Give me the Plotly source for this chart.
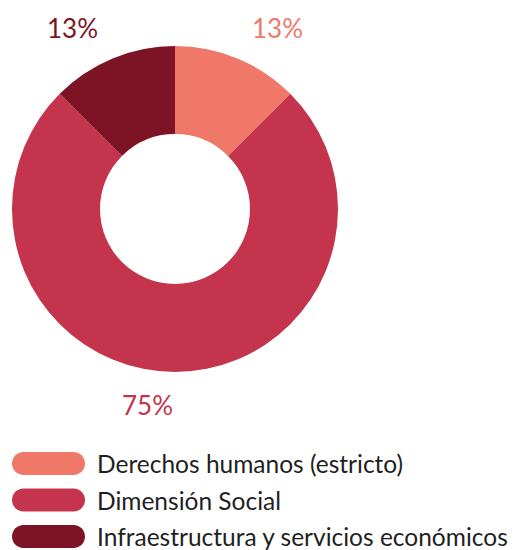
import math
import plotly.graph_objects as go

# slice data (1, 6, 1 projects -> 12.5 / 75 / 12.5 %)
categories = ["Derechos humanos (estricto)", "Dimensión Social", "Infraestructura y servicios económicos"]
counts = [1, 6, 1]
colors = ["#F07868", "#C4344C", "#7D1425"]

# the page body adds an 8px margin, so the figure is a bit smaller than the window
OFF = 8
W, H = 526 - OFF, 550 - OFF
FONT = "Lato, 'Noto Sans', sans-serif"


def px(x):
    return (x - OFF) / W


def py(y):
    return 1 - (y - OFF) / H


# donut geometry in window pixels
cx, cy, r_out = 175, 209, 163
r_label = r_out + 33

fig = go.Figure()
fig.add_trace(go.Pie(
    labels=categories,
    values=counts,
    marker=dict(colors=colors, line=dict(width=0)),
    hole=0.46,
    sort=False,
    direction="clockwise",
    rotation=0,
    textinfo="none",
    showlegend=False,
    hoverinfo="label+percent",
    domain=dict(x=[px(cx - r_out), px(cx + r_out)], y=[py(cy + r_out), py(cy - r_out)]),
))

# percent labels outside the ring, placed at each slice's mid angle
total = sum(counts)
cum = 0
for v, col in zip(counts, colors):
    mid = (cum + v / 2) / total * 360
    cum += v
    a = math.radians(mid)
    fig.add_annotation(
        x=px(cx + r_label * math.sin(a)), y=py(cy - r_label * math.cos(a)),
        xref="paper", yref="paper", showarrow=False,
        text=f"{int(v / total * 100 + 0.5)}%",
        xanchor="left" if mid < 180 else "right", yanchor="middle",
        font=dict(size=26, color=col, family=FONT),
    )

# custom legend: rounded pills + labels
pw, ph = 73, 23
r = ph / 2
k = 0.5523 * r
pill = (f"M {r},{-r} L {pw - r},{-r} C {pw - r + k},{-r} {pw},{-k} {pw},0 "
        f"C {pw},{k} {pw - r + k},{r} {pw - r},{r} L {r},{r} "
        f"C {r - k},{r} 0,{k} 0,0 C 0,{-k} {r - k},{-r} {r},{-r} Z")
row_y = [463.5, 500, 536.5]
for name, col, yy in zip(categories, colors, row_y):
    fig.add_shape(
        type="path", path=pill,
        xref="paper", yref="paper",
        xsizemode="pixel", ysizemode="pixel",
        xanchor=px(12), yanchor=py(yy),
        fillcolor=col, line=dict(width=0),
    )
    fig.add_annotation(
        x=px(95), y=py(yy), xref="paper", yref="paper",
        text=name, showarrow=False, xanchor="left", yanchor="middle",
        font=dict(size=24.5, color="#1f1f1f", family=FONT),
    )

fig.update_layout(
    width=W, height=H,
    margin=dict(l=0, r=0, t=0, b=0),
    paper_bgcolor="white",
    plot_bgcolor="white",
    font=dict(family=FONT),
)

fig.write_html("out.html")
